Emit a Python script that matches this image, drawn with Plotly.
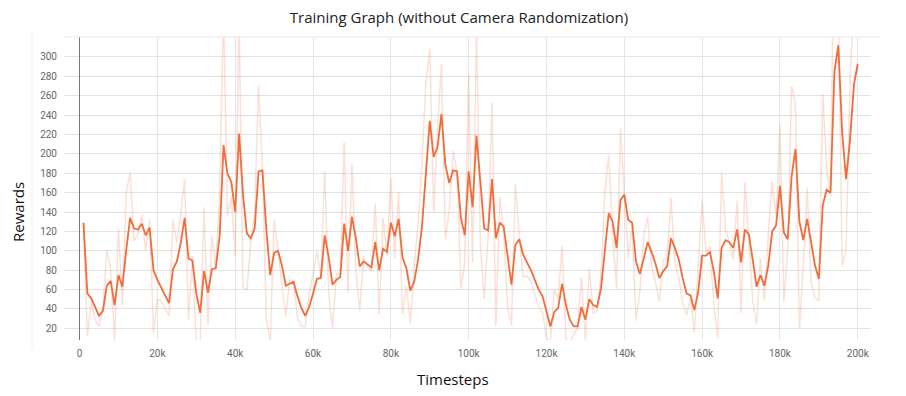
import plotly.graph_objects as go

# Timesteps (one logged point every 1k steps)
steps = [i * 1000 for i in range(1, 201)]

# Smoothed reward curve
smoothed = [
    129, 56, 51, 42, 33, 38, 64, 69, 44, 75,
    63, 101, 134, 123, 122, 128, 116, 124, 80, 70,
    62, 54, 46, 81, 89, 108, 134, 92, 90, 56,
    36, 79, 57, 81, 82, 115, 209, 180, 171, 140,
    221, 158, 118, 113, 123, 182, 183, 122, 75, 98,
    100, 85, 64, 66, 68, 53, 41, 33, 42, 56,
    71, 72, 116, 94, 65, 70, 73, 128, 100, 135,
    113, 84, 89, 86, 83, 109, 80, 102, 99, 129,
    115, 133, 93, 82, 59, 68, 91, 125, 183, 234,
    197, 207, 241, 189, 170, 183, 182, 134, 116, 182,
    145, 219, 171, 123, 121, 174, 113, 129, 125, 94,
    65, 106, 112, 96, 88, 80, 70, 60, 53, 37,
    22, 37, 41, 66, 44, 29, 22, 22, 42, 29,
    50, 44, 42, 61, 101, 139, 130, 103, 152, 158,
    132, 129, 89, 76, 92, 109, 99, 87, 72, 79,
    84, 113, 103, 91, 72, 56, 54, 39, 58, 95,
    95, 99, 79, 51, 103, 111, 109, 103, 122, 88,
    122, 117, 91, 63, 75, 64, 85, 120, 126, 167,
    119, 112, 177, 205, 130, 111, 133, 108, 85, 71,
    147, 163, 160, 285, 312, 221, 174, 214, 271, 293,
]

# Raw (unsmoothed) rewards, faint line
raw = [
    129, 12, 46, 29, 22, 40, 101, 80, 8, 123,
    44, 160, 181, 110, 117, 137, 100, 132, 15, 50,
    48, 40, 33, 132, 108, 138, 174, 29, 95, 6,
    6, 145, 23, 116, 82, 162, 348, 136, 156, 94,
    342, 62, 60, 108, 139, 270, 185, 29, 6, 132,
    102, 64, 32, 70, 68, 31, 22, 22, 55, 76,
    100, 73, 182, 58, 20, 76, 76, 212, 57, 190,
    80, 38, 95, 84, 79, 149, 34, 134, 95, 175,
    92, 161, 34, 64, 25, 84, 128, 190, 273, 308,
    139, 226, 293, 112, 141, 203, 182, 61, 88, 282,
    88, 330, 108, 50, 116, 253, 22, 155, 119, 43,
    23, 169, 115, 73, 74, 68, 56, 42, 36, 11,
    5, 60, 50, 105, 10, 6, 14, 21, 73, 8,
    82, 35, 39, 75, 160, 199, 116, 61, 227, 165,
    93, 126, 28, 58, 116, 135, 84, 68, 48, 91,
    92, 155, 88, 72, 46, 34, 51, 16, 82, 152,
    98, 105, 45, 10, 181, 123, 108, 91, 152, 36,
    171, 112, 49, 24, 92, 48, 117, 172, 135, 230,
    47, 102, 270, 250, 20, 84, 165, 68, 52, 48,
    262, 186, 156, 470, 352, 84, 101, 274, 356, 327,
]

y_ticks = [20, 40, 60, 80, 100, 120, 140, 160, 180, 200, 220, 240, 260, 280, 300]
x_ticks = [0, 20000, 40000, 60000, 80000, 100000, 120000, 140000, 160000, 180000, 200000]
x_labels = ["0", "20k", "40k", "60k", "80k", "100k", "120k", "140k", "160k", "180k", "200k"]

line_color = "#f26b3a"

# page has an 8px body margin; figure sized so the page layout matches
W, H = 898, 388

fig = go.Figure()
fig.add_trace(go.Scatter(
    x=steps, y=raw, mode="lines",
    line=dict(color=line_color, width=1.5),
    opacity=0.2, hoverinfo="skip",
))
fig.add_trace(go.Scatter(
    x=steps, y=smoothed, mode="lines",
    line=dict(color=line_color, width=1.8),
))

fig.update_layout(
    width=W, height=H,
    margin=dict(l=56, r=35, t=29, b=56),
    paper_bgcolor="white", plot_bgcolor="white",
    showlegend=False,
    title=dict(
        text="Training Graph (without Camera Randomization)",
        x=(459 - 8) / W, xref="container", xanchor="center",
        y=1 - 4 / H, yref="container", yanchor="top",
        font=dict(family="Open Sans", size=15, color="#222222"),
    ),
    font=dict(family="Roboto", size=10, color="#666666"),
)

fig.update_xaxes(
    range=[-4000, 203400],
    tickvals=x_ticks, ticktext=x_labels,
    showgrid=True, gridcolor="#e6e6e6", gridwidth=1,
    zeroline=True, zerolinecolor="#777777", zerolinewidth=1,
    showline=False, ticks="", ticklabelstandoff=6,
    tickfont=dict(family="Roboto", size=10, color="#666666"),
)
fig.update_yaxes(
    range=[8, 320.6],
    tickvals=y_ticks,
    showgrid=True, gridcolor="#e3e3e3", gridwidth=1.3,
    zeroline=False, showline=False, ticks="", ticklabelstandoff=6,
    tickfont=dict(family="Roboto", size=10, color="#666666"),
)

# top border gridline
fig.add_shape(type="line", xref="paper", yref="paper", x0=0, x1=1.01, y0=1, y1=1,
              line=dict(color="#e6e6e6", width=1))
# faint card border at left
fig.add_shape(type="line", xref="paper", yref="paper", x0=-32 / 807, x1=-32 / 807,
              y0=-0.03, y1=1.02, line=dict(color="#eeeeee", width=1))

fig.add_annotation(
    text="Rewards", textangle=-90, showarrow=False,
    xref="paper", yref="paper", x=(18 - 64) / 807, y=(340 - 212) / 303,
    xanchor="center", yanchor="middle",
    font=dict(family="Open Sans", size=15, color="#111111"),
)
fig.add_annotation(
    text="Timesteps", showarrow=False,
    xref="paper", yref="paper", x=(453 - 64) / 807, y=(340 - 379) / 303,
    xanchor="center", yanchor="middle",
    font=dict(family="Open Sans", size=15, color="#111111"),
)

fig.write_html("out.html")
